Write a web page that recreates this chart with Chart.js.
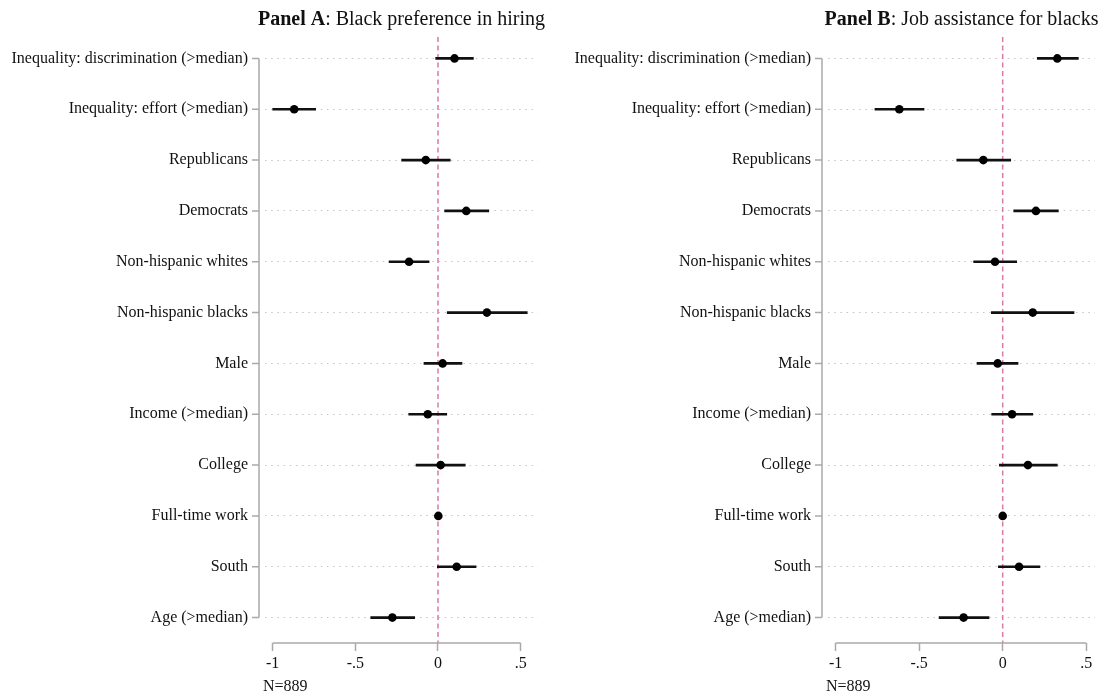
<!DOCTYPE html>
<html>
<head>
<meta charset="utf-8">
<script src="https://cdn.jsdelivr.net/npm/chart.js@4.4.1/dist/chart.umd.min.js"></script>
<style>
  html, body { margin: 0; padding: 0; background: #fff; }
  #wrap { position: relative; width: 1107px; height: 698px; }
  .panel { position: absolute; top: 0; height: 698px; }
  #pa { left: 0; width: 553px; }
  #pb { left: 553px; width: 554px; }
</style>
</head>
<body>
<div id="wrap">
  <div class="panel" id="pa"><canvas id="ca" width="553" height="698"></canvas></div>
  <div class="panel" id="pb"><canvas id="cb" width="554" height="698"></canvas></div>
</div>
<script>
const categories = ['Inequality: discrimination (>median)', 'Inequality: effort (>median)', 'Republicans', 'Democrats',
  'Non-hispanic whites', 'Non-hispanic blacks', 'Male', 'Income (>median)', 'College', 'Full-time work', 'South', 'Age (>median)'];

const estA = [0.100, -0.870, -0.074, 0.171, -0.175, 0.296, 0.028, -0.062, 0.016, 0.002, 0.113, -0.276];
const loA  = [-0.014, -1.000, -0.220, 0.040, -0.296, 0.056, -0.085, -0.177, -0.133, -0.008, -0.004, -0.407];
const hiA  = [0.214, -0.740, 0.074, 0.307, -0.054, 0.540, 0.145, 0.053, 0.165, 0.012, 0.230, -0.141];

const estB = [0.327, -0.619, -0.116, 0.199, -0.046, 0.180, -0.030, 0.056, 0.151, 0.000, 0.098, -0.234];
const loB  = [0.207, -0.765, -0.275, 0.066, -0.174, -0.068, -0.154, -0.066, -0.020, -0.008, -0.026, -0.381];
const hiB  = [0.453, -0.471, 0.048, 0.333, 0.084, 0.427, 0.092, 0.180, 0.327, 0.008, 0.223, -0.082];

const xTickValues = [-1, -0.5, 0, 0.5];
const xTickLabels = ['-1', '-.5', '0', '.5'];

const titleA = ['Panel A', ': Black preference in hiring'];
const titleB = ['Panel B', ': Job assistance for blacks'];
const noteText = 'N=889';

const FONT = "'Liberation Serif', 'Times New Roman', serif";
const AXIS_GREY = '#a9a9a9';
const TEXT = '#111';

function makeChart(canvasId, est, lo, hi, title, xmin, xmax, yWidth, padRight) {
  const decor = {
    id: 'decor',
    beforeDatasetsDraw(chart) {
      const ctx = chart.ctx, a = chart.chartArea, xs = chart.scales.x;
      const x0 = xs.getPixelForValue(0);
      ctx.save();
      ctx.strokeStyle = '#d87aa8';
      ctx.lineWidth = 1.5;
      ctx.setLineDash([5, 3.5]);
      ctx.beginPath();
      ctx.moveTo(x0, a.top + 4);
      ctx.lineTo(x0, a.bottom);
      ctx.stroke();
      ctx.restore();
    },
    afterDraw(chart) {
      const ctx = chart.ctx, a = chart.chartArea, xs = chart.scales.x, ys = chart.scales.y;
      ctx.save();
      // y axis line (first to last category) and tick marks
      const ax = a.left - 6;
      const yTop = ys.getPixelForValue(0), yBot = ys.getPixelForValue(categories.length - 1);
      ctx.strokeStyle = AXIS_GREY;
      ctx.lineWidth = 1.5;
      ctx.beginPath();
      ctx.moveTo(ax, yTop); ctx.lineTo(ax, yBot);
      for (let i = 0; i < categories.length; i++) {
        const y = ys.getPixelForValue(i);
        ctx.moveTo(ax - 7, y); ctx.lineTo(ax, y);
      }
      ctx.stroke();
      // x axis line from first to last tick
      ctx.beginPath();
      ctx.moveTo(xs.getPixelForValue(xTickValues[0]), a.bottom);
      ctx.lineTo(xs.getPixelForValue(xTickValues[xTickValues.length - 1]), a.bottom);
      ctx.stroke();
      // title
      const cx = (a.left + a.right) / 2;
      ctx.fillStyle = TEXT;
      ctx.textBaseline = 'alphabetic';
      ctx.font = 'bold 20px ' + FONT;
      const w1 = ctx.measureText(title[0]).width;
      ctx.font = '20px ' + FONT;
      const w2 = ctx.measureText(title[1]).width;
      const sx = cx - (w1 + w2) / 2;
      ctx.font = 'bold 20px ' + FONT;
      ctx.fillText(title[0], sx, 25);
      ctx.font = '20px ' + FONT;
      ctx.fillText(title[1], sx + w1, 25);
      // note
      ctx.font = '16px ' + FONT;
      ctx.textBaseline = 'middle';
      ctx.fillText(noteText, a.left - 2, 687);
      ctx.restore();
    }
  };

  return new Chart(document.getElementById(canvasId), {
    type: 'bar',
    data: {
      labels: categories,
      datasets: [
        {
          type: 'line',
          data: est,
          showLine: false,
          pointRadius: 4.3,
          pointHoverRadius: 4.3,
          pointBackgroundColor: '#000',
          pointBorderColor: '#000',
          pointBorderWidth: 0,
          order: 0
        },
        {
          type: 'bar',
          data: lo.map((l, i) => [l, hi[i]]),
          backgroundColor: '#111',
          borderWidth: 0,
          barThickness: 2,
          order: 1
        }
      ]
    },
    options: {
      indexAxis: 'y',
      responsive: false,
      animation: false,
      events: [],
      layout: { padding: { top: 33, right: padRight, bottom: 25, left: 0 } },
      plugins: { legend: { display: false }, tooltip: { enabled: false }, title: { display: false } },
      scales: {
        x: {
          type: 'linear',
          min: xmin,
          max: xmax,
          afterBuildTicks(s) { s.ticks = xTickValues.map(v => ({ value: v })); },
          afterFit(s) { s.height = 30; },
          grid: { drawOnChartArea: false, drawTicks: true, tickLength: 8, tickColor: AXIS_GREY, tickWidth: 1.5 },
          border: { display: false },
          ticks: {
            font: { family: FONT, size: 16 },
            color: TEXT,
            padding: 3,
            maxRotation: 0,
            autoSkip: false,
            callback(v) { const i = xTickValues.indexOf(v); return i >= 0 ? xTickLabels[i] : ''; }
          }
        },
        y: {
          type: 'category',
          offset: true,
          afterFit(s) { s.width = yWidth; },
          grid: { offset: false, drawTicks: false, color: '#c4c4c4', lineWidth: 1 },
          border: { display: false, dash: [1.5, 4.7] },
          ticks: {
            font: { family: FONT, size: 16 },
            color: TEXT,
            padding: 17,
            autoSkip: false
          }
        }
      }
    },
    plugins: [decor]
  });
}

makeChart('ca', estA, loA, hiA, titleA, -1.0466, 0.605, 265, 15);
makeChart('cb', estB, loB, hiB, titleB, -1.046, 0.5527, 275, 12);
</script>
</body>
</html>
